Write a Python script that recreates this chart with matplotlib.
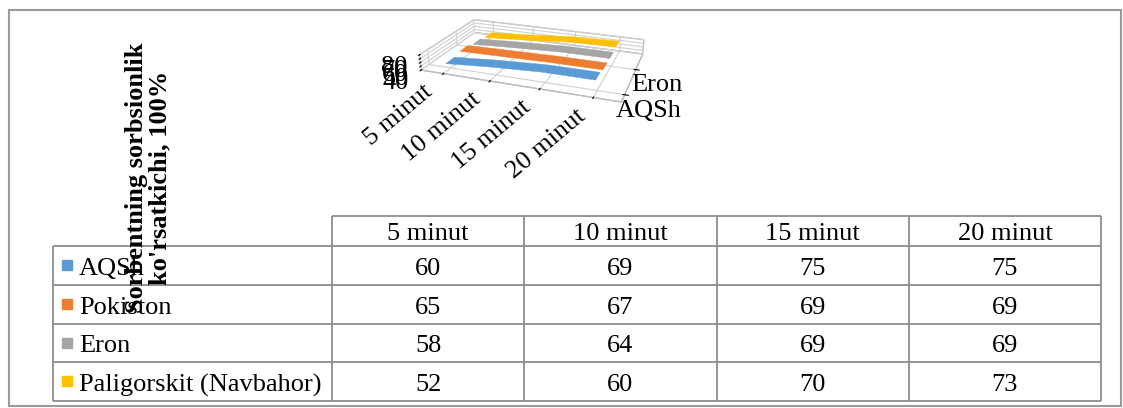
import matplotlib.pyplot as plt
from matplotlib.patches import Rectangle
from mpl_toolkits.mplot3d.art3d import Poly3DCollection
import numpy as np

plt.rcParams['font.family'] = 'Liberation Serif'

categories = ['5 minut', '10 minut', '15 minut', '20 minut']
series_names = ['AQSh', 'Pokiston', 'Eron', 'Paligorskit (Navbahor)']
aqsh = [60, 69, 75, 75]
pokiston = [65, 67, 69, 69]
eron = [58, 64, 69, 69]
paligorskit = [52, 60, 70, 73]
series_vals = [aqsh, pokiston, eron, paligorskit]
colors = ['#5B9BD5', '#ED7D31', '#A5A5A5', '#FFC000']
z_ticks = [40, 50, 60, 70, 80]
depth_ticks = [0, 2]
depth_labels = ['AQSh', 'Eron']
ylabel = "Sorbentning sorbsionlik\nko'rsatkichi, 100%"

W, H = 1123, 408
fig = plt.figure(figsize=(W / 100, H / 100), dpi=100)

# pixel-space axes for the frame, the axis title and the data table
base = fig.add_axes([0, 0, 1, 1])
base.set_xlim(0, W)
base.set_ylim(H, 0)
base.axis('off')
base.add_patch(Rectangle((8.5, 10), 1112, 396, fill=False, ec='#9a9a9a', lw=1.5))

fs = 19
grid_c = '#8c8c8c'
tab_left, col_left, col_w = 53, 332, 192.25
head_top, head_bot, row_h = 216, 246, 38.75
n_cols = len(categories)
right = col_left + n_cols * col_w
bottom = head_bot + len(series_names) * row_h

base.hlines(head_top, col_left, right, color=grid_c, lw=1.3)
base.hlines([head_bot + i * row_h for i in range(len(series_names) + 1)],
            tab_left, right, color=grid_c, lw=1.3)
base.vlines(tab_left, head_bot, bottom, color=grid_c, lw=1.3)
base.vlines([col_left + j * col_w for j in range(n_cols + 1)],
            head_top, bottom, color=grid_c, lw=1.3)

for j, cat in enumerate(categories):
    base.text(col_left + (j + 0.5) * col_w, head_top + 24, cat,
              ha='center', va='baseline', fontsize=fs)

for i, (name, vals, col) in enumerate(zip(series_names, series_vals, colors)):
    top = head_bot + i * row_h
    base.add_patch(Rectangle((62, top + 14), 10, 10, color=col))
    base.text(79, top + 29, name, ha='left', va='baseline', fontsize=fs)
    for j, v in enumerate(vals):
        base.text(col_left + (j + 0.5) * col_w, top + 29, str(v),
                  ha='center', va='baseline', fontsize=fs)

base.text(148, 178, ylabel, rotation=90, ha='center', va='center',
          multialignment='center', fontweight='bold', fontsize=fs,
          linespacing=1.0)

# small 3-D ribbon chart above the table
ax = fig.add_axes([0.295, 0.61, 0.36, 0.50], projection='3d')
ax.patch.set_visible(False)
xs = np.arange(len(categories))
w = 0.3
for k, (vals, col) in enumerate(zip(series_vals, colors)):
    verts = []
    for j in range(len(xs) - 1):
        verts.append([(xs[j], k - w, vals[j]), (xs[j + 1], k - w, vals[j + 1]),
                      (xs[j + 1], k + w, vals[j + 1]), (xs[j], k + w, vals[j])])
    ax.add_collection3d(Poly3DCollection(verts, facecolors=col, edgecolors=col,
                                         linewidth=0.3))

ax.set_xlim(-0.5, len(categories) - 0.5)
ax.set_ylim(-0.5, len(series_names) - 0.5)
ax.set_zlim(z_ticks[0], z_ticks[-1])
ax.set_box_aspect((220, 130, 18), zoom=1.08)
ax.view_init(elev=22, azim=-70)
ax.set_proj_type('persp', focal_length=0.45)

ax.set_xticks(xs)
ax.set_xticklabels(categories, rotation=40, ha='right', va='top', fontsize=fs)
ax.set_yticks(depth_ticks)
ax.set_yticklabels(depth_labels, fontsize=fs)
ax.set_zticks(z_ticks)
ax.set_zticklabels([str(t) for t in z_ticks], fontsize=fs)
ax.zaxis.set_ticks_position('lower')
for axis in (ax.xaxis, ax.yaxis, ax.zaxis):
    axis.set_pane_color((1, 1, 1, 1))
    axis.pane.set_edgecolor('#bdbdbd')
    axis._axinfo['grid']['color'] = '#d0d0d0'
    axis._axinfo['grid']['linewidth'] = 0.8
    axis.line.set_color('#bdbdbd')
    axis.set_tick_params(length=0, pad=0)

fig.savefig('out.png', dpi=100)
